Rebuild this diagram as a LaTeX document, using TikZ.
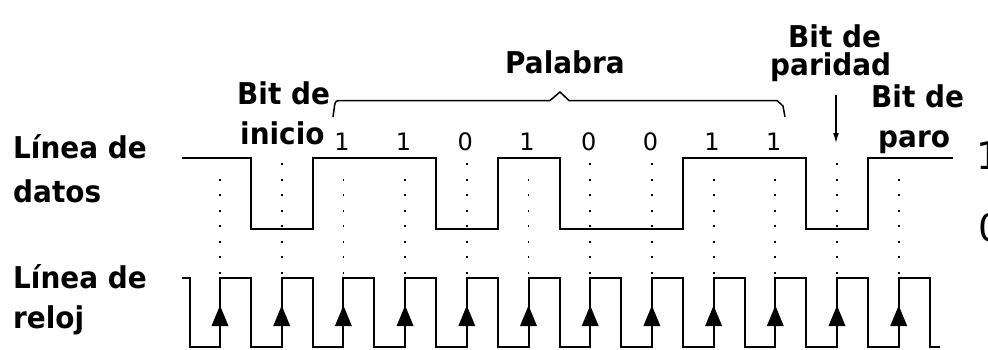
\documentclass[tikz,border=0pt]{standalone}
\usepackage{fontspec}
\setmainfont{DejaVu Sans}
\newfontfamily\lblfont{DejaVu Sans}[FakeStretch=0.93]
\usetikzlibrary{arrows.meta}
\tikzset{
  lbl/.style={anchor=base west, inner sep=0pt, font=\lblfont\fontsize{30}{30}\selectfont\bfseries},
  bitlbl/.style={anchor=base, inner sep=0pt, font=\fontsize{24}{24}\selectfont},
  lvllbl/.style={anchor=base west, inner sep=0pt, font=\fontsize{38}{38}\selectfont},
  wave/.style={line width=2pt, line join=miter},
  dotline/.style={line width=1.8pt, dash pattern=on 1.8pt off 13.7pt},
  bracepath/.style={line width=1.5pt, line join=round},
  tick/.style={fill=black},
  pointer/.style={line width=1.2pt, -{Latex[length=10pt,width=6pt]}},
}
\begin{document}
\begin{tikzpicture}[x=1pt,y=-1pt]
\useasboundingbox (0,0) rectangle (988,349);

% left labels
\node[lbl] (ld1) at (13,158) {Línea de};
\node[lbl] (ld2) at (13,202) {datos};
\node[lbl] (lr1) at (13,288) {Línea de};
\node[lbl] (lr2) at (13,328) {reloj};

% top labels
\node[lbl] (bi1) at (237,104) {Bit de};
\node[lbl] (bi2) at (240,144) {inicio};
\node[lbl] (pal) at (505,73) {Palabra};
\node[lbl] (bp1) at (788,47) {Bit de};
\node[lbl] (bp2) at (770,75) {paridad};
\node[lbl] (bs1) at (871,107) {Bit de};
\node[lbl] (bs2) at (878,147) {paro};

% level labels (clipped at right edge)
\node[lvllbl] (one) at (976,169) {1};
\node[lvllbl] (zero) at (978,241) {0};

% brace over the word
\draw[bracepath] (333,117) -- (334.5,106) .. controls (335.5,101) .. (340,100.5)
  -- (550,100.5) -- (560,92) -- (569,100.5) -- (777,100.5) -- (783,106) -- (785,117);

% parity pointer
\coordinate (ptop) at (836,95);
\coordinate (pbot) at (836,143);
\draw[pointer] (ptop) -- (pbot);

% data line
\draw[wave] (182,158) -- (251,158) -- (251,228.5) -- (312.7,228.5) -- (312.7,158)
  -- (436.1,158) -- (436.1,228.5) -- (497.8,228.5) -- (497.8,158) -- (559.5,158)
  -- (559.5,228.5) -- (682.9,228.5) -- (682.9,158) -- (806.3,158) -- (806.3,228.5)
  -- (868,228.5) -- (868,158) -- (953,158);

% clock line
\draw[wave] (182,277.5) -- (190,277.5) -- (190,347)
  foreach \k in {0,...,11} { -- ({220+61.7*\k},347) -- ({220+61.7*\k},277.5)
  -- ({251+61.7*\k},277.5) -- ({251+61.7*\k},347) } -- (940,347);

% arrowheads on rising edges
\foreach \k in {0,...,11}
  \fill[tick] ({220+61.7*\k},305.5) -- ({228.5+61.7*\k},326) -- ({211.5+61.7*\k},326) -- cycle;

% dotted guide lines: start depends on data level
\foreach \k/\s in {0/178.7,1/163.2,2/178.7,3/178.7,4/163.2,5/178.7,6/163.2,7/163.2,8/178.7,9/178.7,10/163.2,11/178.7}
  \draw[dotline] ({220+61.7*\k},\s) -- ({220+61.7*\k},274);

% bit values
\foreach \k/\b in {2/1,3/1,4/0,5/1,6/0,7/0,8/1,9/1}
  \node[bitlbl] (b\k) at ({218.5+61.7*\k},150) {\b};

\end{tikzpicture}
\end{document}
